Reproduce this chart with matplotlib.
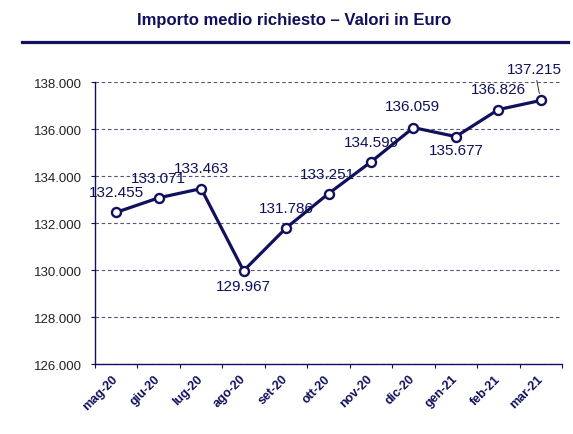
import matplotlib
matplotlib.use("Agg")
import matplotlib.pyplot as plt
from matplotlib.lines import Line2D
from matplotlib.ticker import FixedLocator, FuncFormatter

# ---- data ----
months = ["mag-20", "giu-20", "lug-20", "ago-20", "set-20", "ott-20",
          "nov-20", "dic-20", "gen-21", "feb-21", "mar-21"]
importo = [132455, 133071, 133463, 129967, 131786, 133251,
           134599, 136059, 135677, 136826, 137215]
y_ticks = [126000, 128000, 130000, 132000, 134000, 136000, 138000]
title = "Importo medio richiesto \u2013 Valori in Euro"

# ---- style ----
NAVY = "#10105C"
GRID = "#55557A"
plt.rcParams["font.family"] = ["Liberation Sans", "DejaVu Sans"]

def fmt_it(v):
    return f"{int(round(v)):,}".replace(",", ".")

fig = plt.figure(figsize=(5.73, 4.35), dpi=100)
ax = fig.add_axes([95 / 573, 1 - 365 / 435, (562 - 95) / 573, (365 - 83) / 435])

x = list(range(len(months)))
ax.plot(x, importo, color=NAVY, lw=2.3, marker="o", ms=6.5,
        mfc="white", mec=NAVY, mew=1.7, zorder=3, clip_on=False)

ax.set_xlim(-0.5, len(months) - 0.5)
ax.set_ylim(y_ticks[0], y_ticks[-1])

# y axis
ax.yaxis.set_major_locator(FixedLocator(y_ticks))
ax.yaxis.set_major_formatter(FuncFormatter(lambda v, p: fmt_it(v)))
ax.tick_params(axis="y", direction="out", length=3.2, width=0.8, color=NAVY,
               labelsize=9.5, labelcolor="#222222", pad=6)
ax.yaxis.grid(True, color=GRID, lw=0.8, linestyle=(0, (3.2, 2.4)))
ax.set_axisbelow(True)

# x axis: labels at centers, ticks at boundaries
ax.set_xticks(x)
ax.set_xticklabels(months, rotation=45, ha="right", va="center",
                   rotation_mode="anchor", fontsize=9, fontweight="bold",
                   color=NAVY)
ax.tick_params(axis="x", which="major", length=0, pad=9)
ax.set_xticks([i - 0.5 for i in range(len(months) + 1)], minor=True)
ax.tick_params(axis="x", which="minor", direction="out", length=3.2,
               width=0.8, color=NAVY)

for s in ["top", "right"]:
    ax.spines[s].set_visible(False)
for s in ["left", "bottom"]:
    ax.spines[s].set_color(NAVY)
    ax.spines[s].set_linewidth(1.0)

# data labels
offsets = [(0, 14.5)] * len(months)
offsets[3] = (0, -11)
offsets[8] = (0, -9.5)
offsets[5] = (-1, 14)
offsets[7] = (-1, 15.5)
for i, (xi, v) in enumerate(zip(x, importo)):
    if i == len(months) - 1:
        ax.annotate(fmt_it(v), (xi, v), xytext=(-4.5, 22.5),
                    textcoords="offset points", ha="center", va="center",
                    fontsize=11, color=NAVY, zorder=4,
                    arrowprops=dict(arrowstyle="-", color="#333333", lw=0.7,
                                    shrinkA=1, shrinkB=5))
    else:
        ax.annotate(fmt_it(v), (xi, v), xytext=offsets[i],
                    textcoords="offset points", ha="center", va="center",
                    fontsize=11, color=NAVY, zorder=4)

# title and rule
fig.text(294 / 573, 1 - 21 / 435, title, ha="center", va="center",
         fontsize=12, fontweight="bold", color=NAVY)
fig.add_artist(Line2D([22 / 573, 568 / 573], [1 - 43 / 435, 1 - 43 / 435],
                      transform=fig.transFigure, color=NAVY, lw=2.3))

fig.savefig("out.png", dpi=100, facecolor="white")
